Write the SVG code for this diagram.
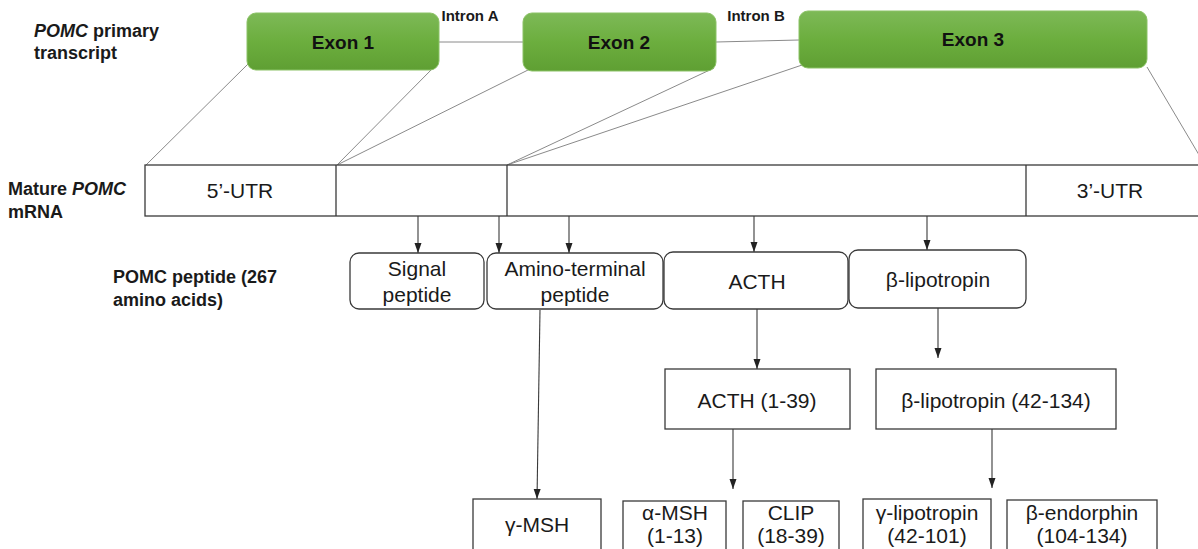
<svg xmlns="http://www.w3.org/2000/svg" width="1198" height="549" viewBox="0 0 1198 549">
  <defs>
    <linearGradient id="exonFill" x1="0" y1="0" x2="0" y2="1">
      <stop offset="0" stop-color="#7db957"/>
      <stop offset="0.5" stop-color="#6cae3e"/>
      <stop offset="1" stop-color="#5f9f33"/>
    </linearGradient>
    <marker id="arrow" markerUnits="userSpaceOnUse" markerWidth="10" markerHeight="10" viewBox="0 0 10 10" refX="10" refY="5" orient="auto">
      <path d="M0,1.5 L10,5 L0,8.5 Z" fill="#222"/>
    </marker>
    <style>
      .label { font-family: "Liberation Sans", Arial, sans-serif; font-weight: bold; font-size: 18px; fill: #1a1a1a; }
      .exon { fill: url(#exonFill); stroke: #8bc266; stroke-width: 1; }
      .exon-text { font-family: "Liberation Sans", Arial, sans-serif; font-weight: bold; font-size: 19px; fill: #111; text-anchor: middle; }
      .intron-text { font-family: "Liberation Sans", Arial, sans-serif; font-weight: bold; font-size: 15px; fill: #1a1a1a; text-anchor: middle; }
      .box { fill: #fff; stroke: #3a3a3a; stroke-width: 1.3; }
      .box-text { font-family: "Liberation Sans", Arial, sans-serif; font-size: 21px; fill: #1a1a1a; text-anchor: middle; }
      .splice { stroke: #8a8a8a; stroke-width: 1; fill: none; }
      .arrow { stroke: #3a3a3a; stroke-width: 1.1; fill: none; marker-end: url(#arrow); }
    </style>
  </defs>

  <rect width="1198" height="549" fill="#fff"/>

  <!-- Row labels -->
  <g id="row-labels">
    <text class="label" x="34" y="37"><tspan font-style="italic">POMC</tspan> primary</text>
    <text class="label" x="34" y="59">transcript</text>
    <text class="label" x="8" y="195">Mature <tspan font-style="italic">POMC</tspan></text>
    <text class="label" x="8" y="218">mRNA</text>
    <text class="label" x="113" y="283">POMC peptide (267</text>
    <text class="label" x="113" y="306">amino acids)</text>
  </g>

  <!-- Connectors: introns, splice lines and cleavage arrows -->
  <g id="connectors">
    <line class="splice" x1="439" y1="42" x2="523" y2="42"/>
    <line class="splice" x1="716" y1="42" x2="799" y2="40"/>
    <line class="splice" x1="248" y1="64" x2="146" y2="165"/>
    <line class="splice" x1="433" y1="68" x2="337" y2="165"/>
    <line class="splice" x1="528" y1="70" x2="337" y2="165"/>
    <line class="splice" x1="714" y1="68" x2="507" y2="165"/>
    <line class="splice" x1="808" y1="63" x2="507" y2="165"/>
    <line class="splice" x1="1147" y1="67" x2="1205" y2="165"/>

    <line class="arrow" x1="418" y1="216" x2="418" y2="253"/>
    <line class="arrow" x1="499" y1="216" x2="499" y2="253"/>
    <line class="arrow" x1="569" y1="216" x2="569" y2="253"/>
    <line class="arrow" x1="754" y1="216" x2="754" y2="252"/>
    <line class="arrow" x1="927" y1="216" x2="927" y2="250"/>
    <line class="arrow" x1="540" y1="310" x2="537" y2="499"/>
    <line class="arrow" x1="757" y1="309" x2="757" y2="369"/>
    <line class="arrow" x1="938" y1="308" x2="938" y2="358"/>
    <line class="arrow" x1="733" y1="429" x2="733" y2="489"/>
    <line class="arrow" x1="992" y1="429" x2="992" y2="488"/>
  </g>

  <!-- Primary transcript exons -->
  <g id="exon1">
    <rect class="exon" x="247" y="13" width="192" height="57" rx="9"/>
    <text class="exon-text" x="343" y="49">Exon 1</text>
  </g>
  <g id="exon2">
    <rect class="exon" x="523" y="13" width="193" height="58" rx="9"/>
    <text class="exon-text" x="619" y="49">Exon 2</text>
  </g>
  <g id="exon3">
    <rect class="exon" x="799" y="11" width="348" height="57" rx="9"/>
    <text class="exon-text" x="973" y="46">Exon 3</text>
  </g>
  <g id="intron-labels">
    <text class="intron-text" x="470" y="21">Intron A</text>
    <text class="intron-text" x="756" y="21">Intron B</text>
  </g>

  <!-- Mature mRNA -->
  <g id="mrna">
    <rect class="box" x="145" y="165" width="1070" height="51"/>
    <line class="box" x1="336" y1="165" x2="336" y2="216"/>
    <line class="box" x1="507" y1="165" x2="507" y2="216"/>
    <line class="box" x1="1026" y1="165" x2="1026" y2="216"/>
    <text class="box-text" x="240" y="198">5’-UTR</text>
    <text class="box-text" x="1110" y="198">3’-UTR</text>
  </g>

  <!-- POMC peptide segments -->
  <g id="signal-peptide">
    <rect class="box" x="350" y="253" width="134" height="56" rx="9"/>
    <text class="box-text" x="417" y="276">Signal</text>
    <text class="box-text" x="417" y="302">peptide</text>
  </g>
  <g id="amino-terminal-peptide">
    <rect class="box" x="487" y="253" width="176" height="56" rx="9"/>
    <text class="box-text" x="575" y="276">Amino-terminal</text>
    <text class="box-text" x="575" y="302">peptide</text>
  </g>
  <g id="acth">
    <rect class="box" x="664" y="252" width="184" height="57" rx="9"/>
    <text class="box-text" x="757" y="289">ACTH</text>
  </g>
  <g id="beta-lipotropin">
    <rect class="box" x="849" y="250" width="177" height="58" rx="9"/>
    <text class="box-text" x="938" y="287">β-lipotropin</text>
  </g>

  <!-- Processed fragments -->
  <g id="acth-1-39">
    <rect class="box" x="665" y="369" width="185" height="60"/>
    <text class="box-text" x="757" y="408">ACTH (1-39)</text>
  </g>
  <g id="beta-lipotropin-42-134">
    <rect class="box" x="876" y="369" width="240" height="60"/>
    <text class="box-text" x="996" y="408">β-lipotropin (42-134)</text>
  </g>

  <!-- Final products -->
  <g id="gamma-msh">
    <rect class="box" x="473" y="499" width="128" height="70"/>
    <text class="box-text" x="537" y="532">γ-MSH</text>
  </g>
  <g id="alpha-msh">
    <rect class="box" x="623" y="501" width="103" height="70"/>
    <text class="box-text" x="675" y="520">α-MSH</text>
    <text class="box-text" x="675" y="543">(1-13)</text>
  </g>
  <g id="clip">
    <rect class="box" x="743" y="501" width="96" height="70"/>
    <text class="box-text" x="791" y="520">CLIP</text>
    <text class="box-text" x="791" y="543">(18-39)</text>
  </g>
  <g id="gamma-lipotropin">
    <rect class="box" x="863" y="499" width="128" height="70"/>
    <text class="box-text" x="927" y="520">γ-lipotropin</text>
    <text class="box-text" x="927" y="543">(42-101)</text>
  </g>
  <g id="beta-endorphin">
    <rect class="box" x="1007" y="500" width="150" height="70"/>
    <text class="box-text" x="1082" y="520">β-endorphin</text>
    <text class="box-text" x="1082" y="543">(104-134)</text>
  </g>
</svg>
